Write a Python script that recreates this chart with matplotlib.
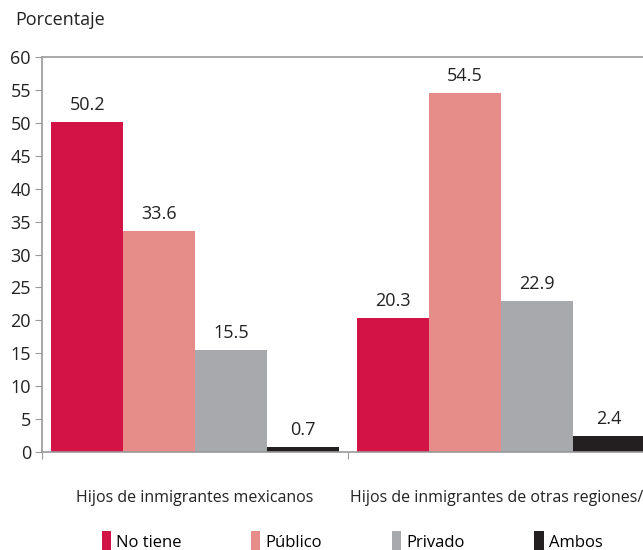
import numpy as np
import matplotlib
matplotlib.use("Agg")
import matplotlib.pyplot as plt
from matplotlib.patches import Patch

plt.rcParams["font.family"] = ["Open Sans", "DejaVu Sans"]

categories = ["Hijos de inmigrantes mexicanos", "Hijos de inmigrantes de otras regiones/2"]
series = ["No tiene", "Público", "Privado", "Ambos"]
no_tiene = [50.2, 20.3]
publico = [33.6, 54.5]
privado = [15.5, 22.9]
ambos = [0.7, 2.4]
colors = ["#D31245", "#E78D89", "#A7A9AC", "#231F20"]

values = [no_tiene, publico, privado, ambos]

fig = plt.figure(figsize=(6.43, 5.5), dpi=100)
ax = fig.add_axes([42 / 643, 1 - 452 / 550, 612 / 643, (452 - 57) / 550])

x = np.arange(len(categories))
w = 0.235
for i, (vals, c) in enumerate(zip(values, colors)):
    pos = x + (i - 1.5) * w
    ax.bar(pos, vals, width=w, color=c, linewidth=0)
    for p, v in zip(pos, vals):
        ax.text(p, v + 1.2, f"{v:.1f}", ha="center", va="bottom", fontsize=13, color="#222222")

ax.set_xlim(-0.5, 1.5)
ax.set_ylim(0, 60)
ax.set_yticks(range(0, 61, 5))
ax.set_xticks([-0.5, 0.5, 1.5], minor=False)
ax.set_xticklabels([])
ax.set_xticks(x, minor=True)
ax.set_xticklabels(categories, minor=True)
ax.tick_params(axis="x", which="minor", length=0, pad=27, labelsize=11.5, labelcolor="#222222")
ax.tick_params(axis="x", which="major", length=5, color="#999999")
ax.tick_params(axis="y", length=5, color="#999999", labelsize=13, labelcolor="#222222", pad=3)

for s in ["left", "bottom", "top"]:
    ax.spines[s].set_color("#999999")
    ax.spines[s].set_linewidth(1.2)
ax.spines["right"].set_visible(False)

fig.text(15 / 643, 1 - 20 / 550, "Porcentaje", fontsize=13, color="#222222", va="center")

handles = [Patch(facecolor=c, edgecolor="none") for c in colors]
fig.legend(handles, series, loc="center", bbox_to_anchor=(352 / 643, 1 - 541 / 550), ncol=4,
           frameon=False, fontsize=12, handlelength=0.55, handleheight=1.4, handletextpad=0.3,
           columnspacing=4.2)

fig.savefig("out.png", dpi=100)
